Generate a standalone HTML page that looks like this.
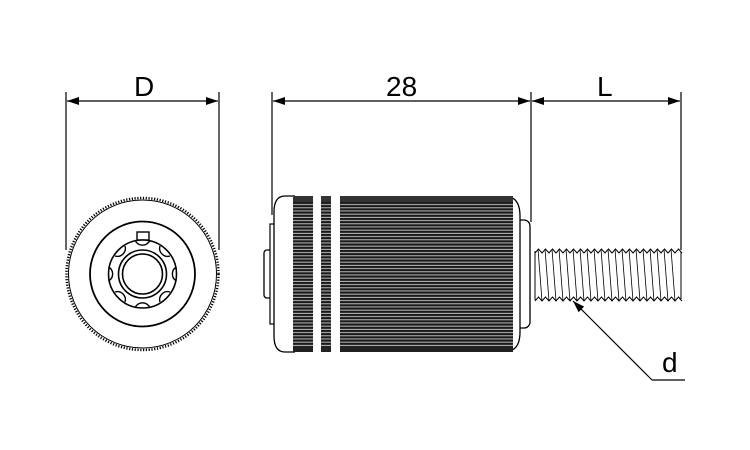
<!DOCTYPE html>
<html><head><meta charset="utf-8"><style>
html,body{margin:0;padding:0;background:#fff;}
svg{display:block;}
text{font-family:"Liberation Sans",sans-serif;font-size:28px;fill:#000;}
</style></head><body>
<svg width="750" height="450" viewBox="0 0 750 450" xmlns="http://www.w3.org/2000/svg">
<defs>
<pattern id="kn" x="0" y="196" width="10" height="3.2" patternUnits="userSpaceOnUse">
<rect width="10" height="3.2" fill="#1a1a1a"/>
<rect y="1.7" width="10" height="0.9" fill="#ccc"/>
</pattern>
<marker id="ar" markerWidth="12" markerHeight="8" refX="12" refY="4" orient="auto-start-reverse" markerUnits="userSpaceOnUse">
<path d="M0,0 L12,4 L0,8 z" fill="#000"/>
</marker>
</defs>
<g stroke="#000" stroke-width="1.2" fill="none">
<line x1="66" y1="92" x2="66" y2="250"/>
<line x1="219" y1="92" x2="219" y2="250"/>
<line x1="272" y1="92" x2="272" y2="215"/>
<line x1="531" y1="92" x2="531" y2="222"/>
<line x1="681" y1="92" x2="681" y2="250"/>
<line x1="67" y1="101" x2="218" y2="101" marker-start="url(#ar)" marker-end="url(#ar)"/>
<line x1="273" y1="101" x2="530" y2="101" marker-start="url(#ar)" marker-end="url(#ar)"/>
<line x1="532" y1="101" x2="680" y2="101" marker-start="url(#ar)" marker-end="url(#ar)"/>
<line x1="652" y1="380" x2="573" y2="301" marker-end="url(#ar)"/>
<line x1="652" y1="380" x2="685" y2="380"/>
</g>
<text x="134" y="96">D</text>
<text x="386" y="96">28</text>
<text x="597" y="96">L</text>
<text x="662" y="372">d</text>

<circle cx="142.5" cy="274" r="76" fill="#fff" stroke="#000" stroke-width="2.5" stroke-dasharray="1.2 1.6"/>
<circle cx="142.5" cy="274" r="74" fill="none" stroke="#000" stroke-width="1"/>
<circle cx="142.5" cy="274" r="52.5" fill="none" stroke="#000" stroke-width="1.8"/>
<rect x="137" y="232" width="12" height="8" fill="#fff" stroke="#000" stroke-width="1.4"/>
<circle cx="142.5" cy="274" r="34" fill="#fff" stroke="#000" stroke-width="1.6"/>
<g fill="none" stroke="#000" stroke-width="1.4">
<path d="M135,308 a8,8 0 0 1 15,0"/>
<path d="M135,240 a8,8 0 0 0 15,0"/>
<path d="M108.5,267 a8,8 0 0 1 0,14"/>
<path d="M176.5,267 a8,8 0 0 0 0,14"/>
<path d="M115,256 a8,8 0 0 0 10,-10"/>
<path d="M170,256 a8,8 0 0 1 -10,-10"/>
<path d="M115,292 a8,8 0 0 1 10,10"/>
<path d="M170,292 a8,8 0 0 0 -10,10"/>
</g>
<circle cx="142.5" cy="274" r="24" fill="#fff" stroke="#000" stroke-width="1.6"/>
<circle cx="142.5" cy="274" r="20" fill="#fff" stroke="#000" stroke-width="1.6"/>

<rect x="264" y="250" width="10" height="48" rx="3" fill="#fff" stroke="#000" stroke-width="1.3"/>
<rect x="270" y="224" width="8" height="100" fill="#fff" stroke="#000" stroke-width="1.2"/>
<path d="M295,196 L285,196 Q274,196 274,212 L274,336 Q274,352 285,352 L295,352" fill="#fff" stroke="#000" stroke-width="1.3"/>
<rect x="512" y="220" width="18" height="108" rx="6" fill="#fff" stroke="#000" stroke-width="1.3"/>
<path d="M510,197 Q520,200 520,216 L520,332 Q520,348 510,351" fill="#fff" stroke="#000" stroke-width="1.3"/>
<rect x="293" y="196" width="20" height="156" fill="url(#kn)"/>
<rect x="321" y="196" width="10" height="156" fill="url(#kn)"/>
<rect x="340" y="196" width="173" height="156" fill="url(#kn)"/>
<rect x="293" y="196" width="20" height="6" fill="#333"/>
<rect x="321" y="196" width="10" height="6" fill="#333"/>
<rect x="340" y="196" width="173" height="6" fill="#333"/>
<rect x="293" y="346" width="20" height="6" fill="#222"/>
<rect x="321" y="346" width="10" height="6" fill="#222"/>
<rect x="340" y="346" width="173" height="6" fill="#222"/>
<g fill="none" stroke="#000" stroke-width="1">
<path id="zt" d="M535,253 l3.5,-4 l3.5,4 l3.5,-4 l3.5,4 l3.5,-4 l3.5,4 l3.5,-4 l3.5,4 l3.5,-4 l3.5,4 l3.5,-4 l3.5,4 l3.5,-4 l3.5,4 l3.5,-4 l3.5,4 l3.5,-4 l3.5,4 l3.5,-4 l3.5,4 l3.5,-4 l3.5,4 l3.5,-4 l3.5,4 l3.5,-4 l3.5,4 l3.5,-4 l3.5,4 l3.5,-4 l3.5,4 l3.5,-4 l3.5,4 l3.5,-4 l3.5,4 l3.5,-4 l3.5,4 l3.5,-4 l3.5,4 l3.5,-4 l3.5,4 l3.5,-4 l3.5,4"/>
<use href="#zt" y="48"/>
<path d="M535,251 L535,300 M681,252 L681,299"/>
</g>
<g stroke="#000" stroke-width="0.8">
<line x1="538" y1="249" x2="542" y2="301"/><line x1="545" y1="249" x2="549" y2="301"/><line x1="552" y1="249" x2="556" y2="301"/><line x1="559" y1="249" x2="563" y2="301"/><line x1="566" y1="249" x2="570" y2="301"/><line x1="573" y1="249" x2="577" y2="301"/><line x1="580" y1="249" x2="584" y2="301"/><line x1="587" y1="249" x2="591" y2="301"/><line x1="594" y1="249" x2="598" y2="301"/><line x1="601" y1="249" x2="605" y2="301"/><line x1="608" y1="249" x2="612" y2="301"/><line x1="615" y1="249" x2="619" y2="301"/><line x1="622" y1="249" x2="626" y2="301"/><line x1="629" y1="249" x2="633" y2="301"/><line x1="636" y1="249" x2="640" y2="301"/><line x1="643" y1="249" x2="647" y2="301"/><line x1="650" y1="249" x2="654" y2="301"/><line x1="657" y1="249" x2="661" y2="301"/><line x1="664" y1="249" x2="668" y2="301"/><line x1="671" y1="249" x2="675" y2="301"/>
</g>
</svg>
</body></html>
